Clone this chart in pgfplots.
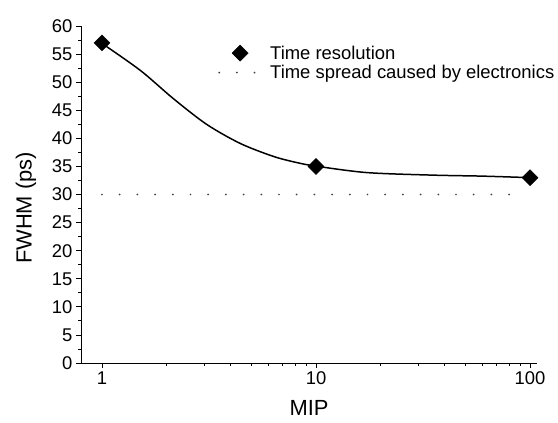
\documentclass[border=0pt]{standalone}
\usepackage{fontspec}
\setmainfont{Liberation Sans}
\usepackage{pgfplots}
\pgfplotsset{compat=1.18}
\pgfplotsset{
  diamleg/.style={legend image code/.code={\draw[mark repeat=2, mark phase=2, ##1] plot coordinates {(0bp,0bp) (21bp,0bp) (36bp,0bp)};}},
  dotleg/.style={legend image code/.code={\draw[##1] (0bp,0bp) -- (36bp,0bp);}},
}
\begin{document}
\begin{tikzpicture}
\path[use as bounding box] (-81bp,-60bp) rectangle (477bp,363bp);
\begin{axis}[
  at={(0,0)}, anchor=south west,
  scale only axis, width=456bp, height=337bp,
  xmode=log, xmin=0.798, xmax=107.8,
  ymin=0, ymax=60,
  axis lines=left, axis line style={line width=1pt, -},
  ytick={0,5,...,60}, minor y tick num=1,
  xtick={1,10,100}, xticklabels={1,10,100},
  tick align=outside, major tick length=5bp, minor tick length=3bp,
  tick style={line width=0.8pt, black},
  ticklabel style={font=\fontsize{18.5}{20}\selectfont},
  /pgf/number format/assume math mode=true,
  xlabel={MIP}, ylabel={FWHM (ps)},
  every axis y label/.style={at={(rel axis cs:0,0.46)}, xshift=-55bp, rotate=90, anchor=center, font=\fontsize{22}{24}\selectfont},
  every axis x label/.style={at={(rel axis cs:0.5,0)}, yshift=-45bp, anchor=center, font=\fontsize{22}{24}\selectfont},
  clip=false,
  legend style={draw=none, fill=none, at={(rel axis cs:0.3004,0.944)}, anchor=north west,
    font=\fontsize{18.5}{20}\selectfont, row sep=3bp, column sep=0bp, inner sep=0pt,
    nodes={inner sep=1bp}},
  legend cell align=left,
  legend image post style={xshift=0bp},
  every legend entry/.append style={xshift=0bp},
]
\addplot[black, line width=1.5pt, smooth, forget plot] coordinates {
  (1,56.9) (1.51,52.1) (2.15,47.1) (3.08,42.5) (4.42,39.1) (6.3,36.8) (8.1,35.7)
  (10,35.05) (17.3,33.9) (35,33.45) (60,33.27) (100,33.0)
};
\addplot[black, only marks, mark=square*, mark size=5.7bp, mark options={rotate=45}, diamleg]
  coordinates {(1,57) (10,35) (100,33)};
\addlegendentry[text depth=0pt]{\hspace{13bp}Time resolution}
\addplot[black!75, line width=2pt, line cap=round, dash pattern=on 0pt off 17.7bp, dotleg]
  coordinates {(1,30) (83,30)};
\addlegendentry{\hspace{13bp}Time spread caused by electronics}
\end{axis}
\end{tikzpicture}
\end{document}
